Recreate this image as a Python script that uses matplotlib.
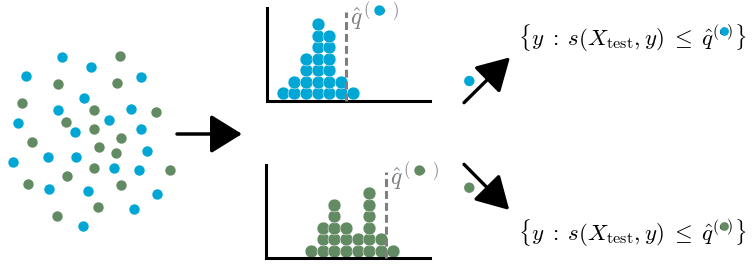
import matplotlib
matplotlib.use('Agg')
import matplotlib.pyplot as plt
from matplotlib.patches import FancyArrowPatch

plt.rcParams['mathtext.fontset'] = 'cm'

BLUE = '#00a7d5'
GREEN = '#638b63'
GRAY = '#7f7f7f'

# calibration points on the left (pixel coords of the picture)
blue_x = [62.3, 90.7, 25.7, 141.3, 84.0, 57.7, 131.0, 17.7, 109.3, 74.7, 141.3,
          146.7, 47.7, 75.7, 13.3, 113.7, 139.3, 49.0, 88.3, 157.0, 134.0, 82.7]
blue_y = [56.7, 66.7, 76.0, 77.3, 97.7, 110.0, 109.3, 123.3, 120.0, 132.3, 129.3,
          151.0, 156.7, 157.0, 162.3, 167.7, 170.3, 188.7, 191.3, 194.3, 208.7, 225.7]
green_x = [120.0, 58.0, 116.7, 21.7, 93.7, 156.3, 66.3, 93.7, 121.0, 32.3, 99.0,
           115.7, 93.7, 67.3, 170.0, 27.7, 120.7, 98.3, 57.0]
green_y = [56.0, 84.0, 83.3, 103.3, 109.7, 112.0, 122.3, 128.7, 138.3, 142.0, 146.7,
           153.0, 168.0, 175.7, 170.3, 184.3, 184.7, 206.7, 216.0]

# test points next to the small arrows
test_x = [469.3, 469.3]
test_y = [81.0, 187.7]

# dot-plot histograms of the scores (dots stacked per bin)
top_counts = [1, 2, 4, 7, 6, 2, 1]
bottom_counts = [1, 3, 5, 3, 2, 6, 2, 1]
top_quantile = 5.42      # in bin units, counted from the first bin
bottom_quantile = 6.43

W, H = 756, 269
fig = plt.figure(figsize=(W / 100, H / 100), dpi=100)
ax = fig.add_axes([0, 0, 1, 1])
ax.set_xlim(0, W)
ax.set_ylim(H, 0)
ax.axis('off')

ax.scatter(blue_x, blue_y, s=56, color=BLUE, linewidths=0, zorder=2)
ax.scatter(green_x, green_y, s=56, color=GREEN, linewidths=0, zorder=2)
ax.scatter(test_x, test_y, s=56, color=[BLUE, GREEN], linewidths=0, zorder=2)


def arrow(p0, p1, lw, hl, hw):
    a = FancyArrowPatch(p0, p1, arrowstyle=f'-|>,head_length={hl},head_width={hw}',
                        mutation_scale=1, lw=lw, color='black',
                        shrinkA=0, shrinkB=0, zorder=3)
    ax.add_patch(a)


arrow((177, 134), (242, 134), 2.5, 19.4, 12.0)
arrow((464, 102.7), (510, 57.3), 2.4, 20.0, 11.4)
arrow((464, 164.3), (509.3, 210), 2.4, 20.0, 11.4)

UNIT = 11.67   # px per bin / per stacked dot


def dotplot(left, top, right, bottom, counts, first_bin, quantile, q_top, color):
    h = fig.add_axes([left / W, 1 - bottom / H, (right - left) / W, (bottom - top) / H])
    h.set_xlim(0, (right - left) / UNIT)
    h.set_ylim(0, (bottom - top) / 11.5)
    h.patch.set_visible(False)
    for s in ['top', 'right']:
        h.spines[s].set_visible(False)
    for s in ['left', 'bottom']:
        h.spines[s].set_linewidth(2.2)
    h.set_xticks([])
    h.set_yticks([])
    xs, ys = [], []
    for i, c in enumerate(counts):
        for j in range(c):
            xs.append(first_bin + i)
            ys.append(0.66 + j)
    h.scatter(xs, ys, s=86, color=color, edgecolors='white', linewidths=0.35,
              clip_on=False, zorder=2)
    h.plot([first_bin + quantile] * 2, [0, q_top], ls=(0, (2.6, 1.3)), lw=2.2,
           color=GRAY, zorder=3, clip_on=False)
    return h


dotplot(267, 8, 430, 101, top_counts, 1.35, top_quantile, 7.74, BLUE)
dotplot(266, 165, 430, 258.3, bottom_counts, 3.86, bottom_quantile, 7.53, GREEN)

renderer = fig.canvas.get_renderer()


def text_with_dot(x, y, lead, pre, post, trail, close, fs, tcolor, dcolor, dsize, lift):
    ax.text(x, y, '$' + lead + pre + r'\bullet' + post + trail + '$', fontsize=fs,
            color=tcolor, ha='left', va='baseline', zorder=3)
    e = []
    for mid in [pre, pre + r'\bullet']:
        t = ax.text(x, y, '$' + lead + mid + '}' + close + '$', fontsize=fs,
                    ha='left', va='baseline', alpha=0)
        e.append(t.get_window_extent(renderer))
        t.remove()
    bx, by = ax.transData.transform((x, y))
    cx = (e[0].x1 + e[1].x1) / 2
    cy = by + lift * fs * 100 / 72
    dx, dy = ax.transData.inverted().transform((cx, cy))
    ax.scatter([dx], [dy], s=dsize, color=dcolor, linewidths=0, zorder=4)


lead_set = r'\left\{y \;:\; s(X_{\mathrm{test}}, y) \;\leq\; \hat{q}^{'
text_with_dot(518, 45, lead_set, '(', ')}', r'\right\}', r'\right.', 16.5,
              'black', BLUE, 40, 0.61)
text_with_dot(518, 240, lead_set, '(', ')}', r'\right\}', r'\right.', 16.5,
              'black', GREEN, 40, 0.61)
text_with_dot(350, 25, r'\hat{q}^{', r'\,(\;', r'\;)}', '', '', 17,
              GRAY, BLUE, 56, 0.62)
text_with_dot(390, 185, r'\hat{q}^{', r'\,(\;', r'\;)}', '', '', 17,
              GRAY, GREEN, 56, 0.62)

fig.savefig('out.png', dpi=100)
